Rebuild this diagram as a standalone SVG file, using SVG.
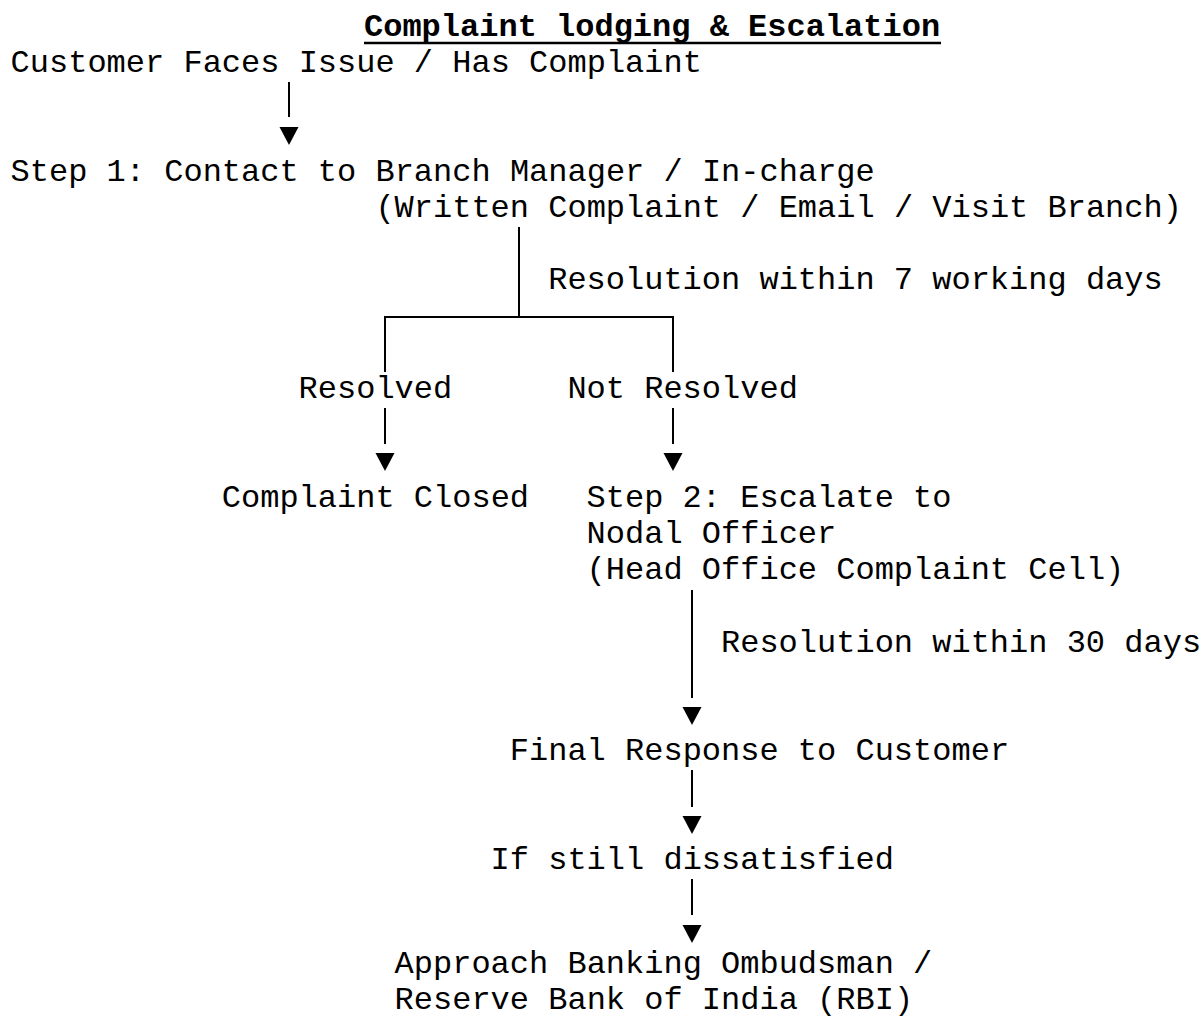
<svg xmlns="http://www.w3.org/2000/svg" xmlns:xlink="http://www.w3.org/1999/xlink" width="1201" height="1019" viewBox="0 0 1201 1019">
<style>
text { font-family: "Liberation Mono", "Courier New", monospace; font-size: 32px; fill: #000; white-space: pre; }
.title { font-weight: bold; }
.ln { stroke: #000; stroke-width: 2; fill: none; }
.tri { fill: #000; }
</style>
<defs>
<path id="arrow" class="tri" d="M-9.5,0 L9.5,0 L0,18 Z"/>
</defs>
<rect width="1201" height="1019" fill="#fff"/>
<g id="title">
<text class="title" x="364" y="35.8">Complaint lodging &amp; Escalation</text>
<line x1="364" y1="43" x2="941" y2="43" stroke="#000" stroke-width="2.5"/>
</g>
<g id="customer"><text x="10.6" y="72">Customer Faces Issue / Has Complaint</text></g>
<g id="step1">
<text x="10.6" y="180.7">Step 1: Contact to Branch Manager / In-charge</text>
<text x="375.4" y="216.9">(Written Complaint / Email / Visit Branch)</text>
</g>
<g id="label-7days"><text x="548.2" y="289.4">Resolution within 7 working days</text></g>
<g id="resolved"><text x="298.6" y="398.1">Resolved</text></g>
<g id="not-resolved"><text x="567.4" y="398.1">Not Resolved</text></g>
<g id="closed"><text x="221.8" y="506.8">Complaint Closed</text></g>
<g id="step2">
<text x="586.6" y="506.8">Step 2: Escalate to</text>
<text x="586.6" y="543">Nodal Officer</text>
<text x="586.6" y="579.2">(Head Office Complaint Cell)</text>
</g>
<g id="label-30days"><text x="721" y="651.7">Resolution within 30 days</text></g>
<g id="final-response"><text x="509.8" y="760.4">Final Response to Customer</text></g>
<g id="dissatisfied"><text x="490.6" y="869.1">If still dissatisfied</text></g>
<g id="ombudsman">
<text x="394.6" y="972.5">Approach Banking Ombudsman /</text>
<text x="394.6" y="1009">Reserve Bank of India (RBI)</text>
</g>
<g id="connectors">
<line class="ln" x1="289" y1="82" x2="289" y2="117"/>
<use xlink:href="#arrow" x="289" y="127"/>
<line class="ln" x1="519" y1="227" x2="519" y2="317"/>
<polyline class="ln" points="385,372 385,317 673,317 673,372"/>
<line class="ln" x1="385" y1="408" x2="385" y2="444"/>
<use xlink:href="#arrow" x="385" y="453"/>
<line class="ln" x1="673" y1="408" x2="673" y2="444"/>
<use xlink:href="#arrow" x="673" y="453"/>
<line class="ln" x1="692" y1="590" x2="692" y2="698"/>
<use xlink:href="#arrow" x="692" y="707"/>
<line class="ln" x1="692" y1="770" x2="692" y2="807"/>
<use xlink:href="#arrow" x="692" y="816"/>
<line class="ln" x1="692" y1="879" x2="692" y2="915"/>
<use xlink:href="#arrow" x="692" y="925"/>
</g>
</svg>
